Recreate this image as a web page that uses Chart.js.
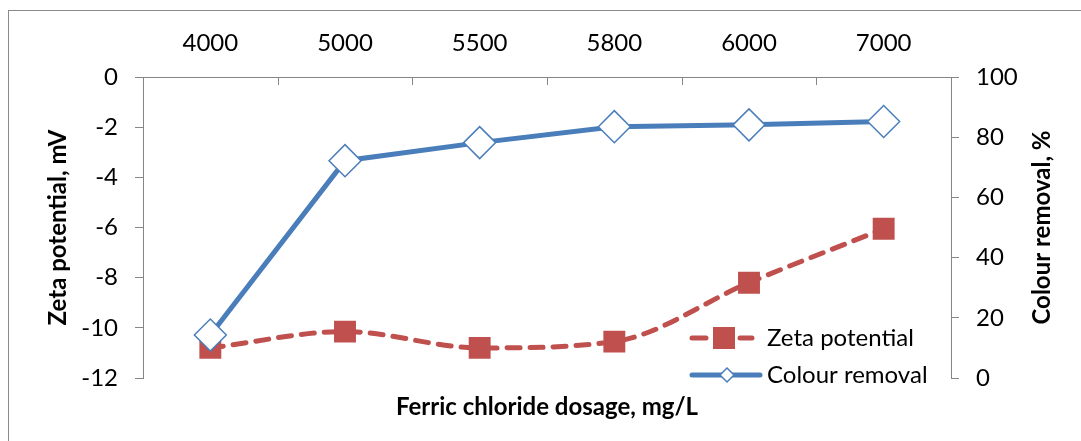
<!DOCTYPE html>
<html>
<head>
<meta charset="utf-8">
<script src="https://cdn.jsdelivr.net/npm/chart.js@4/dist/chart.umd.min.js"></script>
<style>
  html, body { margin: 0; padding: 0; background: #ffffff; }
  #wrap { position: absolute; left: 0; top: 0; width: 1081px; height: 441px; }
</style>
</head>
<body>
<div id="wrap"><canvas id="c" width="1081" height="441"></canvas></div>
<script>
// ---- data ----
const dosages = ['4000', '5000', '5500', '5800', '6000', '7000'];
const zetaPotential = [-10.8, -10.15, -10.8, -10.55, -8.2, -6.05];
const colourRemoval = [14.3, 72.2, 78.2, 83.5, 84.1, 85.2];
const zetaTicks = { min: -12, max: 0, step: 2 };
const removalTicks = { min: 0, max: 100, step: 20 };
const rightTitle = 'Colour removal, %';

const FONT = 'Lato, "Open Sans", sans-serif';
const FS = 24;
const AXIS_GRAY = '#868686';
const BLUE = '#4A7EBB';
const RED = '#C0504D';

const frame = {
  id: 'frame',
  beforeDraw(chart) {
    const ctx = chart.ctx;
    ctx.save();
    ctx.strokeStyle = '#8a8a8a';
    ctx.lineWidth = 1;
    ctx.strokeRect(8.5, 10.5, 1200, 600);
    ctx.restore();
  }
};

const topTicks = {
  id: 'topTicks',
  afterDraw(chart) {
    const sx = chart.scales.x;
    const ctx = chart.ctx;
    const top = chart.chartArea.top;
    const n = sx.ticks.length;
    ctx.save();
    ctx.strokeStyle = AXIS_GRAY;
    ctx.lineWidth = 1;
    for (let i = 0; i < n - 1; i++) {
      const xb = Math.round((sx.getPixelForTick(i) + sx.getPixelForTick(i + 1)) / 2) + 0.5;
      ctx.beginPath();
      ctx.moveTo(xb, top);
      ctx.lineTo(xb, top + 8);
      ctx.stroke();
    }
    ctx.restore();
  }
};

const rightAxisTitle = {
  id: 'rightAxisTitle',
  afterDraw(chart) {
    const ctx = chart.ctx;
    const ca = chart.chartArea;
    ctx.save();
    ctx.translate(1042, (ca.top + ca.bottom) / 2);
    ctx.rotate(-Math.PI / 2);
    ctx.fillStyle = '#000';
    ctx.font = 'bold ' + FS + 'px ' + FONT;
    ctx.textAlign = 'center';
    ctx.textBaseline = 'middle';
    ctx.fillText(rightTitle, 0, 0);
    ctx.restore();
  }
};

const customLegend = {
  id: 'customLegend',
  afterDraw(chart) {
    const ctx = chart.ctx;
    const names = chart.data.datasets.map(d => d.label);
    ctx.save();
    // row 1: Zeta potential
    let y = 338;
    ctx.strokeStyle = RED;
    ctx.lineWidth = 5;
    ctx.lineCap = 'round';
    ctx.beginPath();
    ctx.moveTo(692, y); ctx.lineTo(706, y);
    ctx.moveTo(740, y); ctx.lineTo(752, y);
    ctx.stroke();
    ctx.fillStyle = RED;
    ctx.fillRect(713, y - 11, 22, 22);
    ctx.fillStyle = '#000';
    ctx.font = FS + 'px ' + FONT;
    ctx.textBaseline = 'middle';
    ctx.textAlign = 'left';
    ctx.fillText(names[1], 767, y);
    // row 2: Colour removal
    y = 375;
    ctx.strokeStyle = BLUE;
    ctx.lineWidth = 5;
    ctx.beginPath();
    ctx.moveTo(692, y); ctx.lineTo(760, y);
    ctx.stroke();
    ctx.fillStyle = '#fff';
    ctx.lineWidth = 1.5;
    ctx.beginPath();
    ctx.moveTo(727, y - 7); ctx.lineTo(734, y); ctx.lineTo(727, y + 7); ctx.lineTo(720, y); ctx.closePath();
    ctx.fill(); ctx.stroke();
    ctx.fillStyle = '#000';
    ctx.fillText(names[0], 767, y);
    ctx.restore();
  }
};

new Chart(document.getElementById('c'), {
  type: 'line',
  data: {
    labels: dosages,
    datasets: [
      {
        label: 'Colour removal',
        data: colourRemoval,
        xAxisID: 'x',
        yAxisID: 'y1',
        borderColor: BLUE,
        borderWidth: 5,
        tension: 0,
        pointStyle: 'rectRot',
        pointRadius: 16,
        pointBackgroundColor: '#ffffff',
        pointBorderColor: BLUE,
        pointBorderWidth: 1.5,
        order: 1
      },
      {
        label: 'Zeta potential',
        data: zetaPotential,
        xAxisID: 'x',
        yAxisID: 'y',
        borderColor: RED,
        borderWidth: 5,
        borderDash: [13, 10],
        borderCapStyle: 'round',
        cubicInterpolationMode: 'monotone',
        pointStyle: 'rect',
        pointRadius: 15.5,
        pointBackgroundColor: RED,
        pointBorderColor: RED,
        pointBorderWidth: 0,
        order: 2
      }
    ]
  },
  options: {
    responsive: false,
    devicePixelRatio: 1,
    animation: false,
    layout: { padding: 0 },
    plugins: {
      legend: { display: false },
      tooltip: { enabled: false },
      title: { display: false }
    },
    scales: {
      x: {
        type: 'category',
        position: 'top',
        offset: true,
        grid: { display: false, drawTicks: false },
        border: { display: true, color: AXIS_GRAY, width: 1 },
        ticks: {
          color: '#000',
          font: { family: FONT, size: FS },
          padding: 19,
          autoSkip: false,
          maxRotation: 0
        },
        afterFit(s) { s.height = 77; }
      },
      x2: {
        type: 'category',
        position: 'bottom',
        offset: true,
        grid: { display: false, drawTicks: false },
        border: { display: false },
        ticks: { display: false },
        title: {
          display: true,
          text: 'Ferric chloride dosage, mg/L',
          color: '#000',
          font: { family: FONT, size: FS, weight: 'bold' },
          padding: { top: 0, bottom: 19 }
        },
        afterFit(s) { s.height = 63; }
      },
      y: {
        position: 'left',
        min: zetaTicks.min,
        max: zetaTicks.max,
        grid: { drawOnChartArea: false, color: AXIS_GRAY, tickLength: 8 },
        border: { display: true, color: AXIS_GRAY, width: 1 },
        ticks: {
          stepSize: zetaTicks.step,
          color: '#000',
          font: { family: FONT, size: FS },
          padding: 17
        },
        title: {
          display: true,
          text: 'Zeta potential, mV',
          color: '#000',
          font: { family: FONT, size: FS, weight: 'bold' },
          padding: { top: 44, bottom: 0 }
        },
        afterFit(s) { s.width = 143; }
      },
      y1: {
        position: 'right',
        min: removalTicks.min,
        max: removalTicks.max,
        grid: { drawOnChartArea: false, color: AXIS_GRAY, tickLength: 8 },
        border: { display: true, color: AXIS_GRAY, width: 1 },
        ticks: {
          stepSize: removalTicks.step,
          color: '#000',
          font: { family: FONT, size: FS },
          padding: 17
        },
        afterFit(s) { s.width = 130; }
      }
    }
  },
  plugins: [frame, topTicks, rightAxisTitle, customLegend]
});
</script>
</body>
</html>
